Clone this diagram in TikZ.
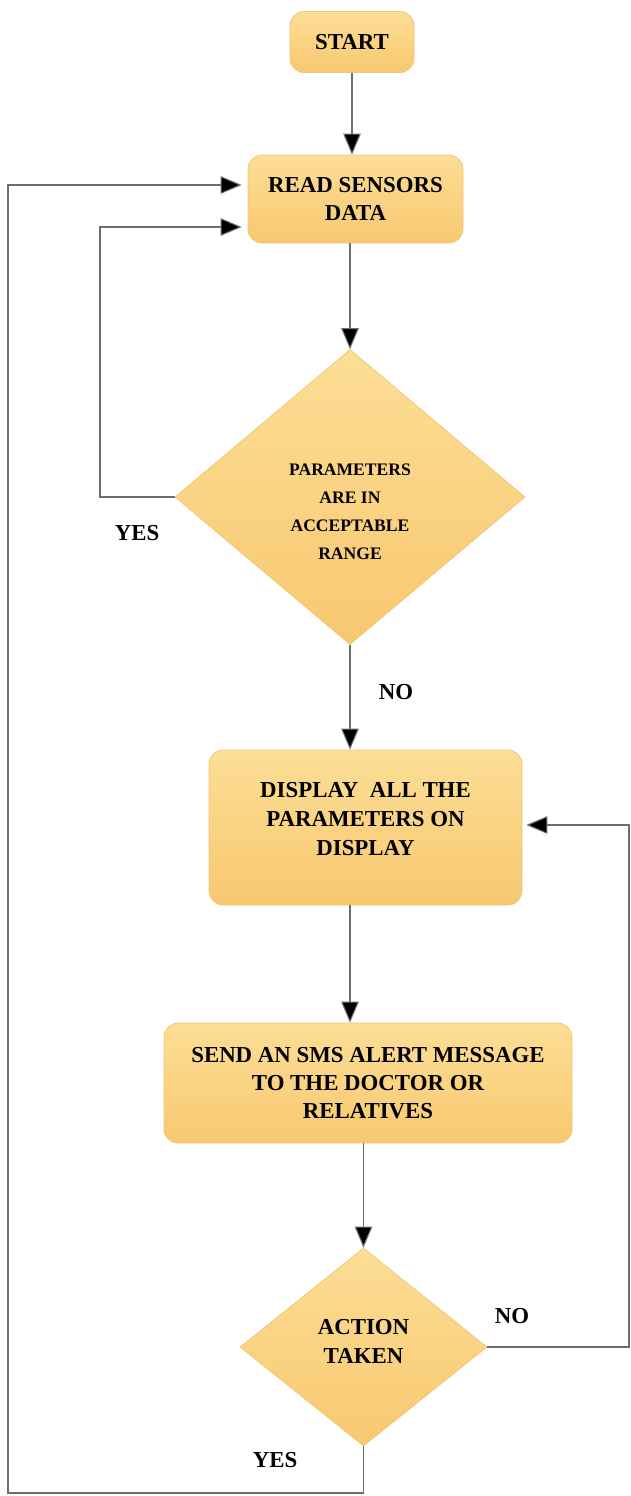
\documentclass[tikz,border=0pt]{standalone}
\usepackage{fontspec}
\setmainfont{Liberation Serif}
\usetikzlibrary{shapes.geometric, arrows.meta}
\definecolor{boxtop}{RGB}{252,222,150}
\definecolor{boxbot}{RGB}{248,200,112}
\definecolor{boxline}{RGB}{243,196,112}
\definecolor{flowline}{RGB}{110,110,110}

\begin{document}
\begin{tikzpicture}
					\tikzstyle{stepbox} = [rectangle,rounded corners=8pt,draw=boxline,top color=boxtop,bottom color=boxbot,align=center,font=\fontsize{13}{16}\selectfont\bfseries]
					\tikzstyle{decide} = [diamond,draw=boxline,top color=boxtop,bottom color=boxbot,align=center,inner sep=0pt]
					\tikzstyle{edge} = [draw=flowline,line width=0.6pt,-{Triangle[length=12pt,width=10pt,fill=black]}]
					\tikzstyle{answer} = [font=\fontsize{13}{16}\selectfont\bfseries]
					\useasboundingbox (0,0) rectangle (12.62,-29.92);
					\node[stepbox,minimum width=2.48cm,minimum height=1.22cm] (start) at (7.04,-0.84) {START};
					\node[stepbox,minimum width=4.3cm,minimum height=1.76cm] (read) at (7.11,-3.98) {READ SENSORS\\DATA};
					\node[decide,minimum width=7cm,minimum height=5.9cm,
						label={[yshift=-0.3cm,align=center,font=\fontsize{10}{16}\selectfont\bfseries]center:PARAMETERS\\ARE IN\\ACCEPTABLE\\RANGE}] (cond) at (7.0,-9.94) {};
					\node[stepbox,minimum width=6.26cm,minimum height=3.1cm,
						label={[yshift=0.16cm,align=center,font=\fontsize{13}{16.5}\selectfont\bfseries]center:DISPLAY~ ALL THE\\PARAMETERS ON\\DISPLAY}] (disp) at (7.31,-16.55) {};
					\node[stepbox,minimum width=8.16cm,minimum height=2.4cm] (sms) at (7.36,-21.66) {SEND AN SMS ALERT MESSAGE\\TO THE DOCTOR OR\\RELATIVES};
					\node[decide,minimum width=4.94cm,minimum height=3.96cm,
						label={[yshift=0.12cm,align=center,font=\fontsize{13}{16.5}\selectfont\bfseries]center:ACTION\\TAKEN}] (act) at (7.27,-26.94) {};
					\node[answer] (yes1) at (2.74,-10.66) {YES};
					\node[answer] (no1) at (7.92,-13.84) {NO};
					\node[answer] (no2) at (10.24,-26.32) {NO};
					\node[answer] (yes2) at (5.5,-29.2) {YES};
					\coordinate (loopA) at (2.0,-4.54);
					\coordinate (loopB) at (0.16,-29.86);
					\coordinate (loopC) at (12.58,-16.5);
					\draw[edge] (start.south) -- (start.south |- read.north);
					\draw[edge] (cond.north |- read.south) -- (cond.north);
					\draw[edge] (cond.south) -- (cond.south |- disp.north);
					\draw[edge] (cond.south |- disp.south) -- (cond.south |- sms.north);
					\draw[edge] (act.north |- sms.south) -- (act.north);
					% loops back
					\draw[edge] (cond.west) -| (loopA) -- ([xshift=-0.12cm]loopA -| read.west);
					\draw[edge] (act.south) |- (loopB) |- ([xshift=-0.12cm,yshift=0.28cm]read.west);
					\draw[edge] (act.east) -| (loopC) -- ([xshift=0.08cm]loopC -| disp.east);
					\end{tikzpicture}
\end{document}
